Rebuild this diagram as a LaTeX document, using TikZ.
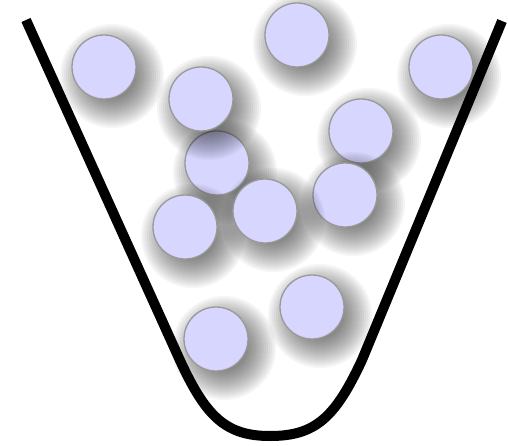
\documentclass[tikz,border=0pt]{standalone}
\definecolor{ballfill}{HTML}{D6D6FF}
\definecolor{ballborder}{HTML}{999999}
\tikzset{
  ball/.style={circle, minimum size=64pt, inner sep=0pt, fill=ballfill, draw=ballborder, line width=1.3pt},
  ballshadow/.style={fill=black, fill opacity=0.038},
  bowl/.style={line width=10pt, line cap=butt, line join=round, black}
}
\newcommand{\myball}[3]{%
  \foreach \rr in {20,22,...,52}{\fill[ballshadow] (#2+8,#3+9) circle[radius=\rr pt];}
  \node[ball] (#1) at (#2,#3) {};}
\begin{document}
\begin{tikzpicture}[x=1pt,y=-1pt]
\useasboundingbox (0,0) rectangle (508,446);
\draw[bowl] (26,20) -- (178,356) .. controls (205,416) and (225,436) .. (270,436)
  .. controls (315,436) and (335,418) .. (362,360) -- (502,21);
\myball{b1}{104}{67}
\myball{b3}{297}{35}
\myball{b4}{441}{67}
\myball{b5}{361}{131}
\myball{b7}{345}{195}
\myball{b6}{217}{163}
\myball{b2}{201}{99}
\myball{b9}{185}{227}
\myball{b8}{265}{211}
\myball{b10}{312}{307}
\myball{b11}{216}{339}
\end{tikzpicture}
\end{document}
